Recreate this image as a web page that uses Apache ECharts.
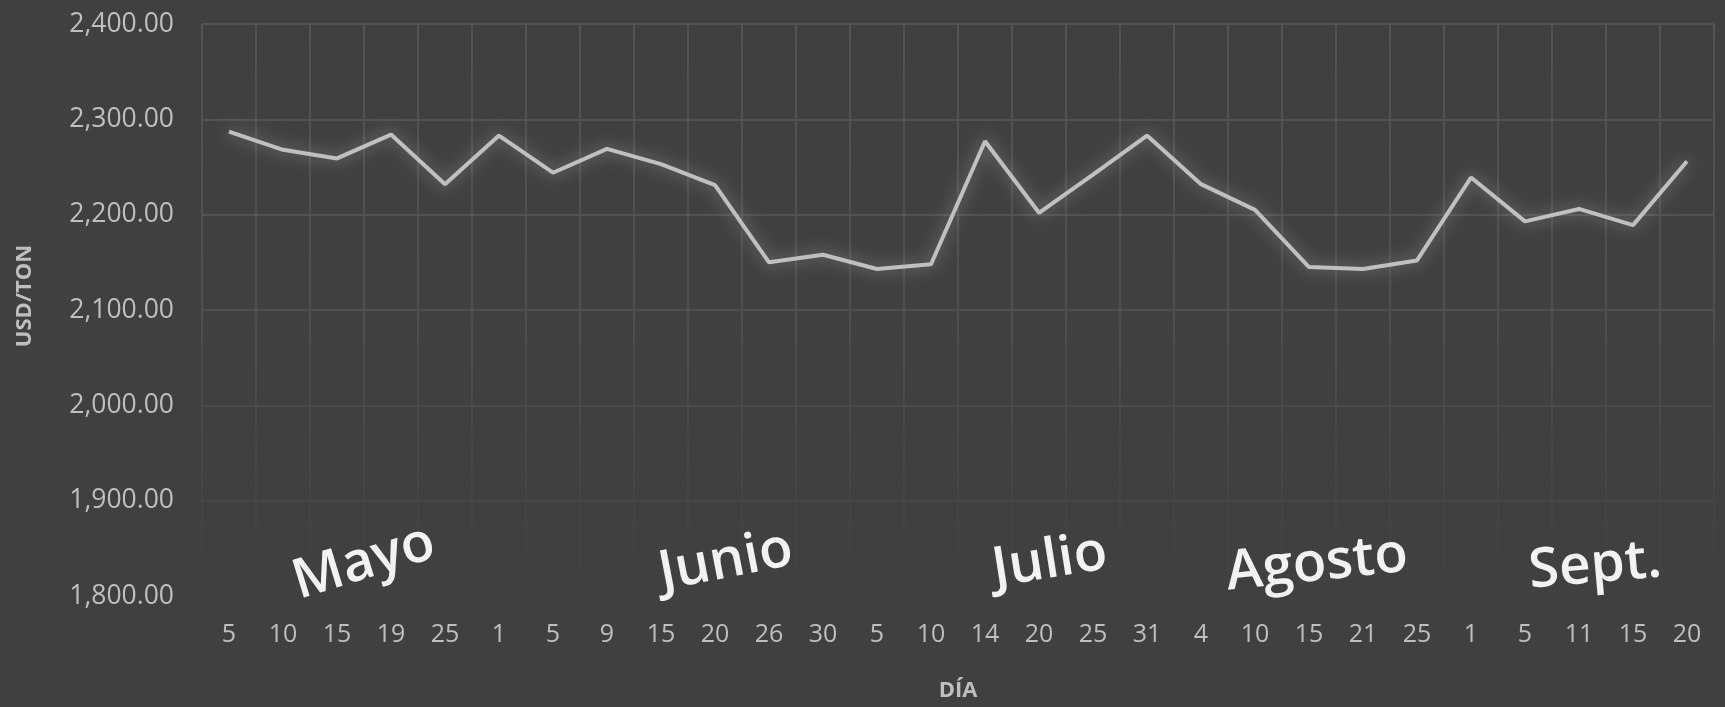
<!DOCTYPE html>
<html>
<head>
<meta charset="utf-8">
<script src="https://cdn.jsdelivr.net/npm/echarts@6/dist/echarts.min.js"></script>
<style>
html,body{margin:0;padding:0;background:#404040;}
#c{width:1725px;height:707px;}
</style>
</head>
<body>
<div id="c"></div>
<script>
const days = ['5','10','15','19','25','1','5','9','15','20','26','30','5','10','14','20','25','31','4','10','15','21','25','1','5','11','15','20'];
const prices = [2287,2268,2259,2284,2232,2283,2244,2269,2253,2231,2150,2158,2143,2148,2277,2202,2242,2283,2232,2205,2145,2143,2152,2239,2193,2206,2189,2256];
const yTicks = {min:1800, max:2400, interval:100};
const months = ['Mayo','Junio','Julio','Agosto','Sept.'];
const monthAt = [2.5, 9.2, 15.2, 20.15, 25.3];   // category position
const monthVal = [1835, 1836, 1836, 1833, 1831];
const monthTilt = [17, 11, 9, 6, 5];

const chart = echarts.init(document.getElementById('c'));
const fmt = v => v.toLocaleString('en-US',{minimumFractionDigits:2, maximumFractionDigits:2});
chart.setOption({
  backgroundColor:'#404040',
  animation:false,
  grid:{left:202, right:11, top:24, bottom:107},
  xAxis:{
    type:'category', data:days, boundaryGap:true,
    axisLine:{show:false}, axisTick:{show:false},
    axisLabel:{color:'#bfbfbf', fontSize:25, fontFamily:'Open Sans', margin:26, interval:0},
    splitLine:{show:true, interval:0, lineStyle:{width:1.5, color:{type:'linear',x:0,y:24,x2:0,y2:600,global:true,
      colorStops:[{offset:0,color:'#5a5a5a'},{offset:0.5,color:'#545454'},{offset:0.8,color:'#474747'},{offset:1,color:'#404040'}]}}},
    name:'DÍA', nameLocation:'middle', nameGap:84,
    nameTextStyle:{color:'#bfbfbf', fontSize:22, fontWeight:'bold', fontFamily:'Open Sans'}
  },
  yAxis:{
    type:'value', min:yTicks.min, max:yTicks.max, interval:yTicks.interval,
    axisLine:{show:false}, axisTick:{show:false},
    axisLabel:{color:'#bfbfbf', fontSize:26.5, fontFamily:'Open Sans', margin:28, formatter:fmt},
    splitLine:{lineStyle:{width:1.5, color:['#414141','#474747','#4e4e4e','#555555','#585858','#5a5a5a','#5a5a5a']}},
    name:'USD/TON', nameLocation:'middle', nameGap:166,
    nameTextStyle:{color:'#bfbfbf', fontSize:22, fontWeight:'bold', fontFamily:'Open Sans', padding:[0,0,0,28]}
  },
  series:[{
    type:'line', data:prices, symbol:'none',
    lineStyle:{color:'#c0c0c0', width:4, shadowColor:'rgba(215,215,215,0.5)', shadowBlur:16},
  }]
});
const g = months.map((m,i)=>{
  const p = chart.convertToPixel({gridIndex:0},[0, monthVal[i]]);
  const x0 = chart.convertToPixel({xAxisIndex:0}, 0);
  const x1 = chart.convertToPixel({xAxisIndex:0}, 1);
  const x = x0 + (x1-x0)*monthAt[i];
  return {type:'text', x:x, y:p[1], rotation:monthTilt[i]*Math.PI/180,
    style:{text:m, fill:'#f2f2f2', font:'600 55px "Open Sans"', textAlign:'center', textVerticalAlign:'middle'}};
});
chart.setOption({graphic:g});
</script>
</body>
</html>
